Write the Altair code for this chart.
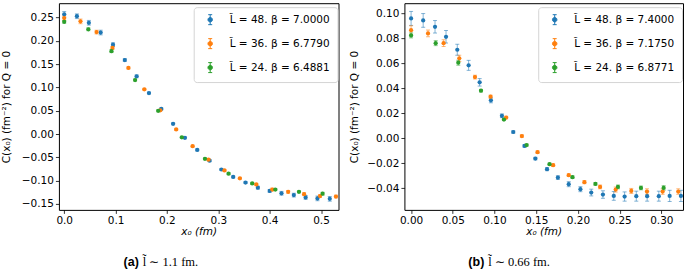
import altair as alt
import pandas as pd

# ---------------- data ----------------
COLORS = ["#1f77b4", "#ff7f0e", "#2ca02c"]

# panel (a)
a_labels = ["L\u0303 = 48. β = 7.0000", "L\u0303 = 36. β = 6.7790", "L\u0303 = 24. β = 6.4881"]
a_blue_x = [0.0, 0.0247, 0.048, 0.071, 0.095, 0.118, 0.141, 0.165, 0.189, 0.212, 0.235, 0.259,
            0.283, 0.306, 0.329, 0.353, 0.377, 0.400, 0.423, 0.447, 0.470, 0.493, 0.517]
a_blue_y = [0.257, 0.253, 0.239, 0.218, 0.192, 0.159, 0.124, 0.088, 0.054, 0.022, -0.008, -0.034,
            -0.057, -0.076, -0.092, -0.104, -0.115, -0.122, -0.127, -0.131, -0.136, -0.138, -0.139]
a_blue_e = [0.006, 0.005, 0.005, 0.005, 0.004, 0.003, 0.003, 0.002, 0.002, 0.002, 0.002, 0.002,
            0.002, 0.002, 0.002, 0.002, 0.003, 0.003, 0.004, 0.004, 0.004, 0.005, 0.005]
a_orange_x = [0.0, 0.0317, 0.063, 0.094, 0.125, 0.156, 0.187, 0.218, 0.250, 0.281, 0.312, 0.342,
              0.374, 0.405, 0.436, 0.467, 0.498, 0.529]
a_orange_y = [0.249, 0.242, 0.219, 0.185, 0.142, 0.096, 0.051, 0.010, -0.026, -0.055, -0.078, -0.095,
              -0.108, -0.119, -0.124, -0.129, -0.133, -0.134]
a_orange_e = [0.005, 0.005, 0.004, 0.003, 0.002, 0.002, 0.002, 0.002, 0.002, 0.002, 0.002, 0.002,
              0.002, 0.003, 0.003, 0.003, 0.003, 0.003]
a_green_x = [0.0, 0.047, 0.092, 0.138, 0.183, 0.229, 0.274, 0.320, 0.366, 0.411, 0.457, 0.503]
a_green_y = [0.241, 0.225, 0.178, 0.116, 0.050, -0.007, -0.053, -0.085, -0.106, -0.119, -0.124, -0.128]
a_green_e = [0.003, 0.003, 0.003, 0.002, 0.002, 0.002, 0.002, 0.002, 0.002, 0.002, 0.002, 0.003]

# panel (b)
b_labels = ["L\u0303 = 48. β = 7.4000", "L\u0303 = 36. β = 7.1750", "L\u0303 = 24. β = 6.8771"]
b_blue_x = [0.0, 0.0145, 0.0287, 0.0419, 0.0554, 0.069, 0.0822, 0.0957, 0.1089, 0.1225, 0.136,
            0.149, 0.163, 0.176, 0.189, 0.203, 0.216, 0.230, 0.243, 0.256, 0.270, 0.283, 0.297,
            0.310, 0.3235]
b_blue_y = [0.096, 0.0944, 0.0893, 0.0813, 0.0709, 0.0584, 0.0448, 0.0304, 0.018, 0.005, -0.0062,
            -0.0163, -0.0248, -0.0315, -0.0368, -0.0408, -0.0435, -0.0451, -0.0462, -0.0467,
            -0.0464, -0.0464, -0.0464, -0.0462, -0.0462]
b_blue_e = [0.0056, 0.0055, 0.005, 0.005, 0.0044, 0.004, 0.003, 0.002, 0.0015, 0.001, 0.001,
            0.001, 0.0012, 0.0015, 0.002, 0.002, 0.0027, 0.003, 0.0035, 0.0037, 0.004, 0.004,
            0.004, 0.0045, 0.0045]
b_orange_x = [0.0, 0.0203, 0.039, 0.0578, 0.0766, 0.0953, 0.114, 0.1328, 0.1516, 0.1703, 0.189,
              0.2078, 0.2266, 0.2453, 0.264, 0.2828, 0.3016, 0.3203]
b_orange_y = [0.0866, 0.084, 0.0762, 0.064, 0.049, 0.0333, 0.0166, 0.0017, -0.0112, -0.0216,
              -0.0296, -0.0352, -0.039, -0.0411, -0.0422, -0.0427, -0.0427, -0.0427]
b_orange_e = [0.0035, 0.0027, 0.0027, 0.0025, 0.0015, 0.0012, 0.001, 0.001, 0.001, 0.001, 0.001,
              0.0012, 0.0015, 0.002, 0.002, 0.0022, 0.0022, 0.0022]
b_green_x = [0.0, 0.0295, 0.0566, 0.0838, 0.1113, 0.1385, 0.166, 0.1935, 0.221, 0.248, 0.2756, 0.3028]
b_green_y = [0.0824, 0.0762, 0.0605, 0.0381, 0.015, -0.0055, -0.0208, -0.0312, -0.0366, -0.039,
             -0.0398, -0.0398]
b_green_e = [0.002, 0.002, 0.002, 0.001, 0.0008, 0.0008, 0.0008, 0.001, 0.001, 0.0015, 0.0015, 0.0018]

# axis ticks
a_xticks = [0.0, 0.1, 0.2, 0.3, 0.4, 0.5]
a_yticks = [-0.15, -0.10, -0.05, 0.0, 0.05, 0.10, 0.15, 0.20, 0.25]
b_xticks = [0.0, 0.05, 0.10, 0.15, 0.20, 0.25, 0.30]
b_yticks = [-0.04, -0.02, 0.0, 0.02, 0.04, 0.06, 0.08, 0.10]

x_title = "x₀ (fm)"
y_title = "C(x₀) (fm⁻²) for Q = 0"
a_tag, a_caption = "(a)", "l\u0303 ∼ 1.1 fm."
b_tag, b_caption = "(b)", "l\u0303 ∼ 0.66 fm."

# errorbar-style legend symbol: vertical bar + caps + dot
SYMBOL = ("M0,-1V1M-0.4,-1H0.4M-0.4,1H0.4"
          "M0.45,0A0.45,0.45,0,1,1,-0.45,0A0.45,0.45,0,1,1,0.45,0Z")


def make_df(labels, xs, ys, es):
    rows = []
    for lab, x, y, e in zip(labels, xs, ys, es):
        for xi, yi, ei in zip(x, y, e):
            rows.append({"series": lab, "x": xi, "y": yi, "lo": yi - ei, "hi": yi + ei})
    return pd.DataFrame(rows)


def make_legend(lx, ly):
    return alt.Legend(title=None, orient="none", legendX=lx, legendY=ly, symbolSize=100,
                      symbolType=SYMBOL, symbolStrokeWidth=1, symbolOpacity=1,
                      labelFontSize=10.5, labelFont="DejaVu Sans", labelColor="black",
                      padding=7, rowPadding=9, symbolOffset=4, labelOffset=14, cornerRadius=3,
                      strokeColor="#d4d4d4", fillColor="white")


def panel(df, labels, xdom, ydom, xticks, yticks, xfmt, yfmt, w, h, ytitle_x, tag, cap, tag_x,
          lx, ly):
    xs = alt.Scale(domain=xdom, nice=False, zero=False)
    ys = alt.Scale(domain=ydom, nice=False, zero=False)
    xax = alt.Axis(values=xticks, format=xfmt, title=x_title, titleFontStyle="italic",
                   titleY=22, titleBaseline="middle", labelOverlap=False, labelFlush=False)
    yax = alt.Axis(values=yticks, format=yfmt, title=y_title, titleX=ytitle_x,
                   titleY=h / 2, titleAngle=-90, titleAlign="center", titleBaseline="middle",
                   labelOverlap=False, labelFlush=False)
    X = lambda: alt.X("x:Q", scale=xs, axis=xax)
    cscale = alt.Scale(domain=labels, range=COLORS)
    leg = make_legend(lx, ly)
    base = alt.Chart(df)
    bars = base.mark_rule(strokeWidth=1, opacity=0.55).encode(
        x=X(), y=alt.Y("lo:Q", scale=ys, axis=yax), y2="hi:Q",
        stroke=alt.Stroke("series:N", scale=cscale, legend=leg),
    )
    cap_lo = base.mark_tick(orient="horizontal", size=4, thickness=1, opacity=0.55).encode(
        x=X(), y=alt.Y("lo:Q", scale=ys, axis=yax),
        color=alt.Color("series:N", scale=cscale, legend=None))
    cap_hi = base.mark_tick(orient="horizontal", size=4, thickness=1, opacity=0.55).encode(
        x=X(), y=alt.Y("hi:Q", scale=ys, axis=yax),
        color=alt.Color("series:N", scale=cscale, legend=None))
    pts = base.mark_circle(size=18, opacity=1).encode(
        x=X(), y=alt.Y("y:Q", scale=ys, axis=yax),
        fill=alt.Fill("series:N", scale=cscale, legend=leg))
    tag_txt = alt.Chart(pd.DataFrame({"t": [tag]})).mark_text(
        font="Liberation Sans", fontWeight="bold", fontSize=12.5, align="right",
        baseline="alphabetic", color="black").encode(
        text="t:N", x=alt.value(tag_x), y=alt.value(h + 56))
    cap_txt = alt.Chart(pd.DataFrame({"t": [cap]})).mark_text(
        font="Liberation Serif", fontSize=12.5, align="left",
        baseline="alphabetic", color="black").encode(
        text="t:N", x=alt.value(tag_x + 4), y=alt.value(h + 56))
    return alt.layer(bars, cap_lo, cap_hi, pts, tag_txt, cap_txt).properties(width=w, height=h)


df_a = make_df(a_labels, [a_blue_x, a_orange_x, a_green_x], [a_blue_y, a_orange_y, a_green_y],
               [a_blue_e, a_orange_e, a_green_e])
df_b = make_df(b_labels, [b_blue_x, b_orange_x, b_green_x], [b_blue_y, b_orange_y, b_green_y],
               [b_blue_e, b_orange_e, b_green_e])

left = panel(df_a, a_labels, [-0.0103, 0.534], [-0.1627, 0.281], a_xticks, a_yticks, ".1f", ".2f",
             280, 207, -52, a_tag, a_caption, 80, 135, 4)
right = panel(df_b, b_labels, [-0.008, 0.326], [-0.0574, 0.1082], b_xticks, b_yticks, ".2f", ".2f",
              279, 207, -50, b_tag, b_caption, 80, 134, 4)

chart = alt.hconcat(left, right, spacing=66, bounds="flush").resolve_scale(
    color="independent", stroke="independent", fill="independent",
    x="independent", y="independent"
).resolve_legend(color="independent", stroke="independent", fill="independent").properties(
    padding={"left": 1, "top": 2, "right": 1, "bottom": 0}
).configure(
    font="DejaVu Sans"
).configure_view(
    stroke="black", strokeWidth=1
).configure_axis(
    domain=False, grid=False, ticks=True, tickColor="black", tickSize=3.5, tickWidth=0.8,
    labelFontSize=10.5, labelColor="black", labelFont="DejaVu Sans", labelPadding=2,
    labelOverlap=False, labelFlush=False,
    titleFontSize=10.5, titleFont="DejaVu Sans", titleFontWeight="normal", titleColor="black",
)

chart.save("out.html", embed_options={"renderer": "svg", "actions": False})
